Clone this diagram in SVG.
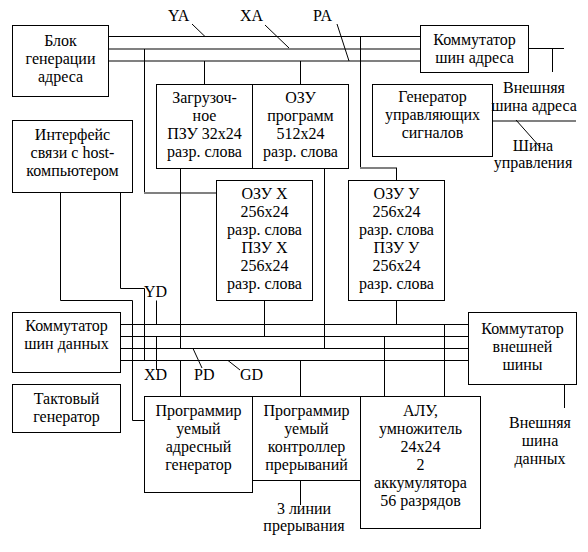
<svg xmlns="http://www.w3.org/2000/svg" width="588" height="552" viewBox="0 0 588 552">
<style>
.n rect{fill:#fff;stroke:#000;stroke-width:1}
text{font-family:"Liberation Serif","Times New Roman",serif;font-size:16px;fill:#000}
.n text,.c{text-anchor:middle}
#connectors path{fill:none;stroke:#000;stroke-width:1}
#connectors path.g{stroke:#808080;stroke-width:2}
</style>
<rect x="0" y="0" width="588" height="552" fill="#fff"/>
<g id="connectors">
<path d="M108.5 36.5H420.5"/>
<path class="g" d="M108.5 49H420.5M108.5 61H420.5"/>
<path d="M144.5 49V192.5"/>
<path class="g" d="M144 193H216.5"/>
<path d="M204.5 61V84.5M300.5 61V84.5"/>
<path d="M360.5 36.5V168"/>
<path class="g" d="M360 168H397"/>
<path d="M396.5 168V180.5"/>
<path d="M528.5 48.5H564M552.5 48.5V72"/>
<path class="g" d="M492.5 121H576"/>
<path d="M516 120L540 147"/>
<path d="M192 24L205 36.5M265 25L289 48M337 24L349 61"/>
<path d="M60.5 192.5V300.5H132.5V420.5H144.5"/>
<path d="M120.5 192.5V288.5H144.5V360.5"/>
<path d="M120.5 324.5H468.5M120.5 336.5H468.5M120.5 348.5H468.5M120.5 360.5H468.5"/>
<path d="M156.5 300.5V324.5M156.5 336.5V370"/>
<path d="M180.5 168.5V348.5M180.5 360.5V396.5"/>
<path d="M264.5 300.5V336.5M324.5 168.5V348.5M396.5 300.5V324.5"/>
<path d="M300.5 360.5V396.5M384.5 336.5V396.5M444.5 324.5V396.5"/>
<path d="M564.5 384.5V408M300.5 480.5V505"/>
<path d="M193 348.5L202 368M228 360.5L240 370"/>
</g>
<g id="n1" class="n"><rect x="12.5" y="25.5" width="96" height="71"/><text><tspan x="60.5" y="46">Блок</tspan><tspan x="60.5" y="64">генерации</tspan><tspan x="60.5" y="82">адреса</tspan></text></g>
<g id="n2" class="n"><rect x="12.5" y="120.5" width="120" height="72"/><text><tspan x="72.5" y="140">Интерфейс</tspan><tspan x="72.5" y="158">связи с host-</tspan><tspan x="72.5" y="176">компьютером</tspan></text></g>
<g id="n3" class="n"><rect x="156.5" y="84.5" width="96" height="84"/><text><tspan x="204.5" y="103">Загрузоч-</tspan><tspan x="204.5" y="121">ное</tspan><tspan x="204.5" y="139">ПЗУ 32x24</tspan><tspan x="204.5" y="157">разр. слова</tspan></text></g>
<g id="n4" class="n"><rect x="252.5" y="84.5" width="96" height="84"/><text><tspan x="300.5" y="103">ОЗУ</tspan><tspan x="300.5" y="121">программ</tspan><tspan x="300.5" y="139">512x24</tspan><tspan x="300.5" y="157">разр. слова</tspan></text></g>
<g id="n5" class="n"><rect x="420.5" y="25.5" width="108" height="47"/><text><tspan x="474.5" y="45">Коммутатор</tspan><tspan x="474.5" y="63">шин адреса</tspan></text></g>
<g id="n6" class="n"><rect x="372.5" y="84.5" width="120" height="72"/><text><tspan x="432.5" y="102">Генератор</tspan><tspan x="432.5" y="120">управляющих</tspan><tspan x="432.5" y="138">сигналов</tspan></text></g>
<g id="n7" class="n"><rect x="216.5" y="180.5" width="96" height="120"/><text><tspan x="264.5" y="199">ОЗУ X</tspan><tspan x="264.5" y="217">256x24</tspan><tspan x="264.5" y="235">разр. слова</tspan><tspan x="264.5" y="253">ПЗУ X</tspan><tspan x="264.5" y="271">256x24</tspan><tspan x="264.5" y="289">разр. слова</tspan></text></g>
<g id="n8" class="n"><rect x="348.5" y="180.5" width="96" height="120"/><text><tspan x="396.5" y="199">ОЗУ У</tspan><tspan x="396.5" y="217">256x24</tspan><tspan x="396.5" y="235">разр. слова</tspan><tspan x="396.5" y="253">ПЗУ У</tspan><tspan x="396.5" y="271">256x24</tspan><tspan x="396.5" y="289">разр. слова</tspan></text></g>
<g id="n9" class="n"><rect x="12.5" y="312.5" width="108" height="60"/><text><tspan x="66.5" y="331">Коммутатор</tspan><tspan x="66.5" y="349">шин данных</tspan></text></g>
<g id="n10" class="n"><rect x="468.5" y="312.5" width="108" height="72"/><text><tspan x="522.5" y="334">Коммутатор</tspan><tspan x="522.5" y="352">внешней</tspan><tspan x="522.5" y="370">шины</tspan></text></g>
<g id="n11" class="n"><rect x="12.5" y="384.5" width="108" height="48"/><text><tspan x="66.5" y="404">Тактовый</tspan><tspan x="66.5" y="422">генератор</tspan></text></g>
<g id="n12" class="n"><rect x="144.5" y="396.5" width="108" height="96"/><text><tspan x="198.5" y="416">Программир</tspan><tspan x="198.5" y="434">уемый</tspan><tspan x="198.5" y="452">адресный</tspan><tspan x="198.5" y="470">генератор</tspan></text></g>
<g id="n13" class="n"><rect x="252.5" y="396.5" width="108" height="84"/><text><tspan x="306.5" y="416">Программир</tspan><tspan x="306.5" y="434">уемый</tspan><tspan x="306.5" y="452">контроллер</tspan><tspan x="306.5" y="470">прерываний</tspan></text></g>
<g id="n14" class="n"><rect x="360.5" y="396.5" width="120" height="132"/><text><tspan x="420.5" y="416">АЛУ,</tspan><tspan x="420.5" y="434">умножитель</tspan><tspan x="420.5" y="452">24x24</tspan><tspan x="420.5" y="470">2</tspan><tspan x="420.5" y="488">аккумулятора</tspan><tspan x="420.5" y="506">56 разрядов</tspan></text></g>
<g id="labels">
<text x="168" y="21">YA</text>
<text x="240" y="21">XA</text>
<text x="313" y="21">PA</text>
<text x="144" y="297">YD</text>
<text x="144" y="380">XD</text>
<text x="194" y="380">PD</text>
<text x="240" y="380">GD</text>
<text class="c"><tspan x="534" y="93">Внешняя</tspan><tspan x="534" y="111">шина адреса</tspan></text>
<text class="c"><tspan x="533" y="151">Шина</tspan><tspan x="533" y="168">управления</tspan></text>
<text class="c"><tspan x="540" y="428">Внешняя</tspan><tspan x="540" y="446">шина</tspan><tspan x="540" y="464">данных</tspan></text>
<text class="c"><tspan x="304" y="514">3 линии</tspan><tspan x="304" y="531">прерывания</tspan></text>
</g>
</svg>
